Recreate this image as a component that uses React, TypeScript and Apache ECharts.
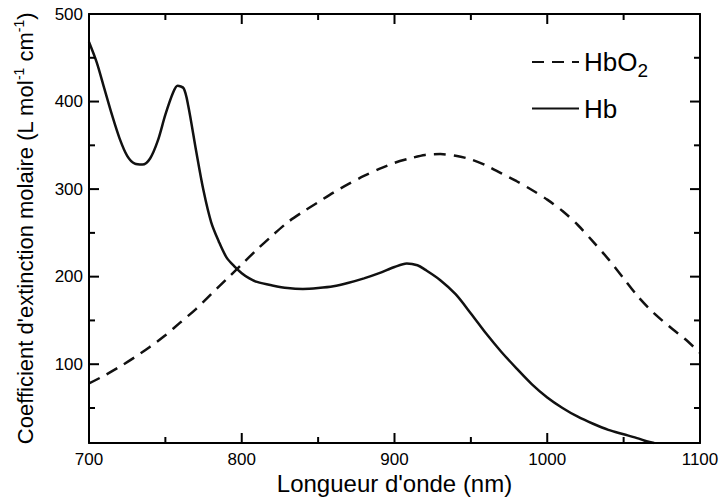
import React, { useEffect, useRef } from "react";
import * as echarts from "echarts";

const wavelengthsHb = [700, 705, 710, 715, 720, 725, 730, 735, 740, 745, 750, 755, 758, 762, 765, 770, 775, 780, 785, 790, 795, 800, 805, 810, 820, 830, 840, 850, 860, 870, 880, 890, 900, 908, 915, 920, 930, 940, 950, 960, 970, 980, 990, 1000, 1010, 1020, 1030, 1040, 1050, 1060, 1065, 1070];
const valuesHb = [468, 445, 415, 385, 358, 338, 329, 328, 335, 355, 385, 410, 418, 415, 395, 345, 298, 262, 240, 222, 212, 204, 198, 194, 190, 187, 186, 187, 189, 193, 198, 204, 211, 215, 213, 208, 196, 180, 158, 135, 114, 95, 77, 62, 50, 40, 32, 25, 20, 15, 12, 10];

const wavelengthsHbO2 = [700, 710, 720, 730, 740, 750, 760, 770, 780, 790, 800, 810, 820, 830, 840, 850, 860, 870, 880, 890, 900, 910, 920, 930, 940, 950, 960, 970, 980, 990, 1000, 1010, 1020, 1030, 1040, 1050, 1060, 1070, 1080, 1090, 1100];
const valuesHbO2 = [78, 87, 97, 108, 120, 133, 148, 163, 180, 197, 214, 231, 247, 262, 274, 285, 296, 306, 315, 323, 330, 335, 339, 340, 338, 334, 327, 318, 309, 299, 288, 275, 259, 240, 220, 198, 176, 158, 143, 129, 113];

const yTickValues = [100, 200, 300, 400, 500];
const yMinorValues = [50, 150, 250, 350, 450];
const xMajorTicks = [800, 900, 1000];
const xMinorTicks = [750, 850, 950, 1050];

const FONT = "Liberation Sans, Arial, Helvetica, sans-serif";

export default function App() {
  const ref = useRef<HTMLDivElement>(null);
  useEffect(() => {
    if (!ref.current) return;
    const chart = echarts.init(ref.current, null, { renderer: "svg" });
    const axisLine = { show: true, onZero: false, lineStyle: { color: "#000", width: 2 } };
    const yBase = {
      type: "value",
      min: 10,
      max: 500,
      z: 10,
      splitLine: { show: false },
      axisLine,
      axisTick: { show: false },
    };
    const xBase = {
      type: "value",
      min: 700,
      max: 1100,
      interval: 100,
      z: 10,
      splitLine: { show: false },
      axisLine,
      axisTick: { show: false },
      minorTick: { show: false },
    };
    // tick marks: [x, y, kind] kind 0 x major, 1 x minor, 2 y major, 3 y minor
    const tickData: number[][] = [
      ...xMajorTicks.map((v) => [v, 10, 0]),
      ...xMinorTicks.map((v) => [v, 10, 1]),
      ...yTickValues.filter((v) => v < 500).map((v) => [700, v, 2]),
      ...yMinorValues.map((v) => [700, v, 3]),
    ];
    const fill = { fill: "#000" };
    const W = 2;
    chart.setOption({
      animation: false,
      backgroundColor: "#fff",
      textStyle: { fontFamily: FONT },
      grid: { left: 89, right: 22, top: 14, bottom: 56, containLabel: false, outerBoundsMode: "none" },
      legend: {
        orient: "vertical",
        left: 526,
        top: 44,
        itemWidth: 47,
        itemHeight: 20,
        itemGap: 16,
        itemStyle: { opacity: 0 },
        data: ["HbO2", "Hb"],
        formatter: (name: string) => (name === "HbO2" ? "{a|HbO}{s|2}" : "{a|Hb}"),
        textStyle: {
          color: "#000",
          rich: {
            a: { fontSize: 26, fontFamily: FONT, color: "#000" },
            s: { fontSize: 19, fontFamily: FONT, color: "#000", padding: [16, 0, 0, 0] },
          },
        },
      },
      xAxis: [
        {
          ...xBase,
          position: "bottom",
          axisLabel: { fontSize: 17, color: "#000", margin: 8, fontFamily: FONT, formatter: (v: number) => String(v) },
          name: "Longueur d'onde (nm)",
          nameLocation: "middle",
          nameGap: 28,
          nameMoveOverlap: false,
          nameTextStyle: { fontSize: 24, color: "#000", fontFamily: FONT },
        },
        {
          ...xBase,
          position: "top",
          axisLabel: { show: false },
        },
      ],
      yAxis: [
        {
          ...yBase,
          position: "left",
          axisLabel: { customValues: yTickValues, fontSize: 17, color: "#000", margin: 6, fontFamily: FONT },
          name: "Coefficient d'extinction molaire (L mol{sup|-1} cm{sup|-1})",
          nameLocation: "middle",
          nameRotate: 90,
          nameGap: 51,
          nameMoveOverlap: false,
          nameTextStyle: {
            fontSize: 22,
            color: "#000",
            fontFamily: FONT,
            rich: {
              sup: { fontSize: 14, color: "#000", fontFamily: FONT, padding: [0, 0, 12, 0] },
            },
          },
        },
        {
          ...yBase,
          position: "right",
          axisLabel: { show: false },
        },
      ],
      series: [
        {
          name: "HbO2",
          type: "line",
          data: wavelengthsHbO2.map((w, i) => [w, valuesHbO2[i]]),
          showSymbol: false,
          symbol: "none",
          smooth: 0.3,
          lineStyle: { color: "#111", width: 2.5, type: [12, 8] },
          itemStyle: { color: "#111" },
        },
        {
          name: "Hb",
          type: "line",
          data: wavelengthsHb.map((w, i) => [w, valuesHb[i]]),
          showSymbol: false,
          symbol: "none",
          smooth: 0.3,
          lineStyle: { color: "#111", width: 2.5 },
          itemStyle: { color: "#111" },
        },
        {
          name: "ticks",
          type: "custom",
          silent: true,
          clip: false,
          z: 5,
          dimensions: ["x", "y", "kind"],
          encode: { x: 0, y: 1 },
          data: tickData,
          renderItem: (params: any, api: any) => {
            const xv = api.value(0);
            const yv = api.value(1);
            const kind = api.value(2);
            if (kind === 0 || kind === 1) {
              const len = kind === 0 ? 10 : 6;
              const b = api.coord([xv, 10]);
              const t = api.coord([xv, 500]);
              return {
                type: "group",
                children: [
                  { type: "rect", shape: { x: b[0] - W / 2, y: b[1] - len, width: W, height: len }, style: fill },
                  { type: "rect", shape: { x: t[0] - W / 2, y: t[1], width: W, height: len }, style: fill },
                ],
              };
            }
            const len = kind === 2 ? 10 : 6;
            const l = api.coord([700, yv]);
            const r = api.coord([1100, yv]);
            return {
              type: "group",
              children: [
                { type: "rect", shape: { x: l[0], y: l[1] - W / 2, width: len, height: W }, style: fill },
                { type: "rect", shape: { x: r[0] - len, y: r[1] - W / 2, width: len, height: W }, style: fill },
              ],
            };
          },
        },
      ],
    });
    return () => chart.dispose();
  }, []);
  return (
    <div
      ref={ref}
      style={{ position: "fixed", left: 0, top: 0, width: 722, height: 499, background: "#fff" }}
    />
  );
}
